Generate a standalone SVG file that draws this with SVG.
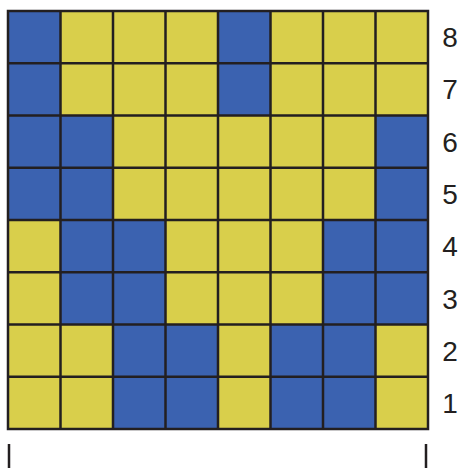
<svg xmlns="http://www.w3.org/2000/svg" width="462" height="468" viewBox="0 0 462 468">
<style>
.b{fill:#3b62b0}
.y{fill:#d9cf4b}
.g{stroke:#231f20;stroke-width:2.5;fill:none}
.t{font-family:"Liberation Sans",Arial,sans-serif;font-size:28px;fill:#231f20;text-anchor:middle}
.k{stroke:#231f20;stroke-width:2.5}
</style>
<rect width="462" height="468" fill="#fff"/>
<g id="cells">
<rect class="b" x="8" y="11" width="52.5" height="52.25"/><rect class="y" x="60.5" y="11" width="52.5" height="52.25"/><rect class="y" x="113" y="11" width="52.5" height="52.25"/><rect class="y" x="165.5" y="11" width="52.5" height="52.25"/><rect class="b" x="218" y="11" width="52.5" height="52.25"/><rect class="y" x="270.5" y="11" width="52.5" height="52.25"/><rect class="y" x="323" y="11" width="52.5" height="52.25"/><rect class="y" x="375.5" y="11" width="52.5" height="52.25"/>
<rect class="b" x="8" y="63.25" width="52.5" height="52.25"/><rect class="y" x="60.5" y="63.25" width="52.5" height="52.25"/><rect class="y" x="113" y="63.25" width="52.5" height="52.25"/><rect class="y" x="165.5" y="63.25" width="52.5" height="52.25"/><rect class="b" x="218" y="63.25" width="52.5" height="52.25"/><rect class="y" x="270.5" y="63.25" width="52.5" height="52.25"/><rect class="y" x="323" y="63.25" width="52.5" height="52.25"/><rect class="y" x="375.5" y="63.25" width="52.5" height="52.25"/>
<rect class="b" x="8" y="115.5" width="52.5" height="52.25"/><rect class="b" x="60.5" y="115.5" width="52.5" height="52.25"/><rect class="y" x="113" y="115.5" width="52.5" height="52.25"/><rect class="y" x="165.5" y="115.5" width="52.5" height="52.25"/><rect class="y" x="218" y="115.5" width="52.5" height="52.25"/><rect class="y" x="270.5" y="115.5" width="52.5" height="52.25"/><rect class="y" x="323" y="115.5" width="52.5" height="52.25"/><rect class="b" x="375.5" y="115.5" width="52.5" height="52.25"/>
<rect class="b" x="8" y="167.75" width="52.5" height="52.25"/><rect class="b" x="60.5" y="167.75" width="52.5" height="52.25"/><rect class="y" x="113" y="167.75" width="52.5" height="52.25"/><rect class="y" x="165.5" y="167.75" width="52.5" height="52.25"/><rect class="y" x="218" y="167.75" width="52.5" height="52.25"/><rect class="y" x="270.5" y="167.75" width="52.5" height="52.25"/><rect class="y" x="323" y="167.75" width="52.5" height="52.25"/><rect class="b" x="375.5" y="167.75" width="52.5" height="52.25"/>
<rect class="y" x="8" y="220" width="52.5" height="52.25"/><rect class="b" x="60.5" y="220" width="52.5" height="52.25"/><rect class="b" x="113" y="220" width="52.5" height="52.25"/><rect class="y" x="165.5" y="220" width="52.5" height="52.25"/><rect class="y" x="218" y="220" width="52.5" height="52.25"/><rect class="y" x="270.5" y="220" width="52.5" height="52.25"/><rect class="b" x="323" y="220" width="52.5" height="52.25"/><rect class="b" x="375.5" y="220" width="52.5" height="52.25"/>
<rect class="y" x="8" y="272.25" width="52.5" height="52.25"/><rect class="b" x="60.5" y="272.25" width="52.5" height="52.25"/><rect class="b" x="113" y="272.25" width="52.5" height="52.25"/><rect class="y" x="165.5" y="272.25" width="52.5" height="52.25"/><rect class="y" x="218" y="272.25" width="52.5" height="52.25"/><rect class="y" x="270.5" y="272.25" width="52.5" height="52.25"/><rect class="b" x="323" y="272.25" width="52.5" height="52.25"/><rect class="b" x="375.5" y="272.25" width="52.5" height="52.25"/>
<rect class="y" x="8" y="324.5" width="52.5" height="52.25"/><rect class="y" x="60.5" y="324.5" width="52.5" height="52.25"/><rect class="b" x="113" y="324.5" width="52.5" height="52.25"/><rect class="b" x="165.5" y="324.5" width="52.5" height="52.25"/><rect class="y" x="218" y="324.5" width="52.5" height="52.25"/><rect class="b" x="270.5" y="324.5" width="52.5" height="52.25"/><rect class="b" x="323" y="324.5" width="52.5" height="52.25"/><rect class="y" x="375.5" y="324.5" width="52.5" height="52.25"/>
<rect class="y" x="8" y="376.75" width="52.5" height="52.25"/><rect class="y" x="60.5" y="376.75" width="52.5" height="52.25"/><rect class="b" x="113" y="376.75" width="52.5" height="52.25"/><rect class="b" x="165.5" y="376.75" width="52.5" height="52.25"/><rect class="y" x="218" y="376.75" width="52.5" height="52.25"/><rect class="b" x="270.5" y="376.75" width="52.5" height="52.25"/><rect class="b" x="323" y="376.75" width="52.5" height="52.25"/><rect class="y" x="375.5" y="376.75" width="52.5" height="52.25"/>
</g>
<g id="gridlines" class="g">
<rect x="8" y="11" width="420" height="418"/>
<path d="M60.5 11V429M113 11V429M165.5 11V429M218 11V429M270.5 11V429M323 11V429M375.5 11V429M8 63.25H428M8 115.5H428M8 167.75H428M8 220H428M8 272.25H428M8 324.5H428M8 376.75H428"/>
</g>
<g id="labels" class="t">
<text x="450" y="47">8</text>
<text x="450" y="99">7</text>
<text x="450" y="152">6</text>
<text x="450" y="204">5</text>
<text x="450" y="256">4</text>
<text x="450" y="309">3</text>
<text x="450" y="361">2</text>
<text x="450" y="413">1</text>
</g>
<g id="bracket" class="k">
<line x1="9" y1="444" x2="9" y2="468"/>
<line x1="426" y1="444" x2="426" y2="468"/>
</g>
</svg>
